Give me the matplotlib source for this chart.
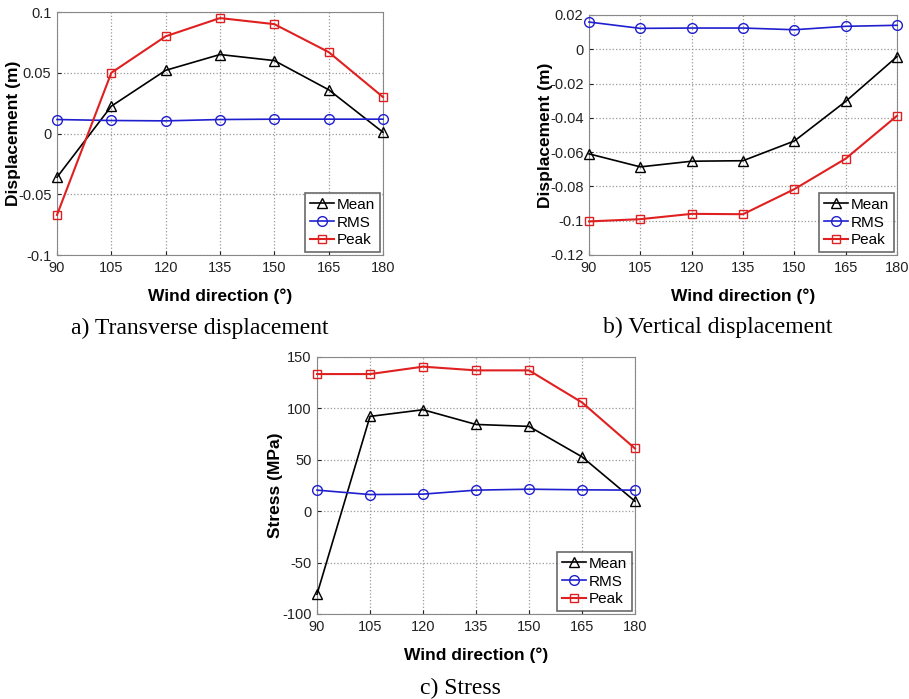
import numpy as np
import matplotlib.pyplot as plt

# dados
wind_dir = [90, 105, 120, 135, 150, 165, 180]

# a) deslocamento transversal (m)
trans_mean = [-0.036, 0.0225, 0.052, 0.065, 0.060, 0.036, 0.001]
trans_rms = [0.0115, 0.0107, 0.0104, 0.0115, 0.0118, 0.0118, 0.0118]
trans_peak = [-0.067, 0.050, 0.080, 0.095, 0.090, 0.067, 0.030]

# b) deslocamento vertical (m)
vert_mean = [-0.061, -0.0686, -0.0653, -0.065, -0.0535, -0.0304, -0.0043]
vert_rms = [0.0159, 0.0122, 0.0124, 0.0124, 0.0114, 0.0134, 0.014]
vert_peak = [-0.1004, -0.0991, -0.096, -0.0962, -0.0816, -0.0638, -0.0388]

# c) tensao (MPa)
stress_mean = [-80.8, 92.2, 98.7, 84.4, 82.5, 52.9, 9.7]
stress_rms = [20.5, 16.2, 16.6, 20.5, 21.4, 20.8, 20.5]
stress_peak = [133.4, 133.4, 140.6, 137.0, 137.0, 105.8, 61.0]

plt.rcParams['font.family'] = ['Liberation Sans', 'DejaVu Sans']

fig = plt.figure(figsize=(9.09, 6.99), dpi=100)
W, H = 909, 699


def make_ax(left, right, top, bottom):
    return fig.add_axes([left / W, 1 - bottom / H, (right - left) / W, (bottom - top) / H])


def draw(ax, mean, rms, peak, ylim, yticks, yticklabels, ylabel, ylab_x):
    ax.plot(wind_dir, mean, 'k-^', mfc='none', ms=7, lw=1.2, label='Mean', clip_on=False, zorder=3)
    ax.plot(wind_dir, rms, '-o', color='#1f1fcf', mfc='none', ms=7, lw=1.2, label='RMS', clip_on=False, zorder=3)
    ax.plot(wind_dir, peak, '-s', color='#e02020', mfc='none', ms=6, lw=1.5, label='Peak', clip_on=False, zorder=3)
    ax.set_xlim(90, 180)
    ax.set_ylim(*ylim)
    ax.set_xticks(wind_dir)
    ax.set_yticks(yticks)
    ax.set_yticklabels(yticklabels)
    ax.grid(True, ls=':', color='#999999', lw=0.9)
    for s in ax.spines.values():
        s.set_color('#888888')
    ax.tick_params(labelsize=10.5, colors='#222222', length=3, direction='in')
    ax.tick_params(axis='y', pad=4)
    ax.tick_params(axis='x', pad=4)
    ax.set_xlabel('Wind direction (°)', fontsize=12.5, fontweight='bold', labelpad=10)
    ax.set_ylabel(ylabel, fontsize=12.5, fontweight='bold')
    # borda direita do rotulo y, em pixels da figura
    bb = ax.get_position()
    ax.yaxis.set_label_coords((ylab_x / W - bb.x0) / bb.width, 0.5)
    leg = ax.legend(loc='lower right', fontsize=11, handlelength=1.6, handletextpad=0.2,
                    borderpad=0.3, labelspacing=0.25, fancybox=False, borderaxespad=0.2)
    leg.get_frame().set_edgecolor('#444444')
    leg.get_frame().set_linewidth(1.2)


ax1 = make_ax(57, 383, 12, 255)
draw(ax1, trans_mean, trans_rms, trans_peak, (-0.1, 0.1),
     [-0.1, -0.05, 0, 0.05, 0.1], ['-0.1', '-0.05', '0', '0.05', '0.1'], 'Displacement (m)', 21)

ax2 = make_ax(589, 897, 15, 255)
draw(ax2, vert_mean, vert_rms, vert_peak, (-0.12, 0.02),
     [-0.12, -0.1, -0.08, -0.06, -0.04, -0.02, 0, 0.02],
     ['-0.12', '-0.1', '-0.08', '-0.06', '-0.04', '-0.02', '0', '0.02'], 'Displacement (m)', 553)

ax3 = make_ax(317, 635, 357, 614)
draw(ax3, stress_mean, stress_rms, stress_peak, (-100, 150),
     [-100, -50, 0, 50, 100, 150], ['-100', '-50', '0', '50', '100', '150'], 'Stress (MPa)', 283)

cap = dict(fontsize=17, family='Liberation Serif', ha='center', va='center')
fig.text(200 / W, 1 - 328 / H, 'a) Transverse displacement', **cap)
fig.text(718 / W, 1 - 327 / H, 'b) Vertical displacement', **cap)
fig.text(460 / W, 1 - 688 / H, 'c) Stress', **cap)

fig.savefig('out.png', dpi=100)
